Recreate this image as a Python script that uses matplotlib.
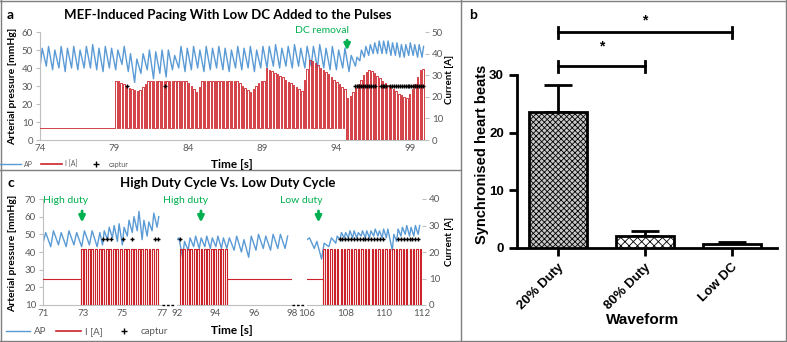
import numpy as np
import matplotlib
matplotlib.use('Agg')
import matplotlib.pyplot as plt
from matplotlib.lines import Line2D

plt.rcParams['font.family'] = ['Lato', 'DejaVu Sans']
plt.rcParams['hatch.linewidth'] = 0.6

W, H = 787, 342
BLUE = '#5B9BD5'
RED = '#CC2229'
GREEN = '#00B050'
TXT = '#595959'
AXC = '#BFBFBF'

# ---------------- panel a : MEF pacing with low DC ----------------
# arterial pressure, one trough + one peak per beat (mmHg)
a_beats1 = (74.0, 94.87)
a_trough1 = [40, 41, 39, 40, 38, 40, 39, 40, 40, 39, 38, 40, 39,
             42, 38, 32, 37, 39, 34, 37, 35, 39,
             40, 38, 39, 40, 38, 39, 40, 39, 38, 40, 39, 40, 38, 40,
             40, 41, 40, 41, 40, 41, 40, 41, 40, 40, 39, 39, 40,
             38]
a_peak1 = [51, 52, 50, 52, 51, 52, 50, 52, 53, 51, 52, 51, 50,
           52, 48, 45, 48, 50, 49, 50, 50, 47,
           52, 51, 52, 50, 52, 51, 52, 51, 50, 52, 51, 52, 50, 52,
           52, 53, 51, 52, 53, 51, 52, 52, 53, 51, 52, 50, 51,
           47]
a_beats2 = (95.3, 99.8)
a_trough2 = [41, 44, 46, 47, 48, 48, 48, 48, 47, 47, 46, 46, 47, 47, 46, 46]
a_peak2 = [46, 50, 52, 53, 54, 55, 55, 55, 54, 54, 53, 53, 54, 53, 53, 52]

# stimulation current (A)
a_dc = 5.5            # DC offset before removal
a_dc_off = 94.65      # DC removal time
a_pulse_first = 79.07
a_pulse_period = 0.182
a_pulse_width = 0.1
a_pulse_top = [27.5, 27.5, 26.5, 26, 25, 24, 23.5, 23,
               22.5, 23, 24.5, 26, 27.5,
               27.5, 27.5, 27.5, 27.5, 27.5, 27.5, 27.5, 27.5, 27.5, 27.5, 27.5, 27.5, 27.5, 27.5,
               26.5, 25, 23.5, 22, 24.5, 27.5,
               27.5, 27.5, 27.5, 27.5, 27.5, 27.5, 27.5, 27.5, 27.5, 27.5, 27.5, 27.5, 27.5,
               26.5, 25, 24, 23, 22, 23.5, 25, 26.5, 27.5, 27.5,
               33.3, 32.5, 32, 31, 30.5, 29.5, 29, 28, 27, 26.5, 25.5, 24.5, 23.5, 22.5,
               28, 33, 37,
               36.5, 35.5, 34.5, 33.5, 32.5, 31.5, 30.5, 29, 28, 27, 26, 24.5, 23.5,
               19.5, 20.5, 22, 24, 26, 28, 30, 31.5, 32.5, 32, 31, 29.5, 28.5, 27.5,
               26.5, 25.5, 24.5, 23.5, 22.5, 21.5, 21, 20, 19.5,
               21.5, 23.5, 26, 29, 32.5, 33]
a_captur = [79.9, 82.45,
            95.30, 95.43, 95.56, 95.69, 95.82, 95.95, 96.08, 96.21, 96.34, 96.47, 96.60,
            97.00, 97.13, 97.26, 97.39,
            97.65, 97.78, 97.91, 98.04, 98.17, 98.30, 98.43, 98.56, 98.69, 98.82,
            98.95, 99.08, 99.21, 99.34, 99.47, 99.60, 99.73, 99.86]
captur_level = 25.0

# ---------------- panel c : high vs low duty cycle ----------------
c_ranges = [(71, 77), (92, 98), (106, 112)]
c_xticks = [[71, 73, 75, 77], [92, 94, 96, 98], [106, 108, 110, 112]]

c1_beats = [(71.0, 73.73), (74.0, 76.75)]
c1_trough = [[45, 43, 44, 43, 44, 43, 44, 43],
             [44, 47, 48, 46, 44, 49, 51, 52, 47, 49, 52, 54]]
c1_peak = [[51, 52, 51, 52, 51, 52, 52, 51],
           [52, 54, 55, 56, 54, 58, 60, 63, 58, 57, 62, 60]]
c2_beats = [(92.0, 94.32), (94.6, 97.64)]
c2_trough = [[47, 37, 41, 43, 42, 43, 42, 43, 42],
             [42, 41, 40, 37, 41, 42, 41, 42, 42]]
c2_peak = [[48, 46, 48, 49, 48, 49, 48, 49, 48],
           [48, 49, 47, 49, 50, 49, 50, 50, 49]]
c3_beats = [(106.0, 107.14), (107.5, 110.14), (110.45, 111.8)]
c3_trough = [[47, 42, 36, 43],
             [45, 47, 48, 48, 48, 48, 49, 48, 48, 49, 49, 48, 48],
             [41, 46, 49, 50, 49, 49, 50]]
c3_peak = [[48, 46, 45, 48],
           [49, 51, 51, 52, 52, 51, 52, 52, 52, 53, 52, 53, 53],
           [50, 53, 54, 55, 54, 55, 55]]

c_dc = 10.0
c_top = 21.0
c_period = 0.18
c_stim = [dict(pre=(71.0, 72.9), first=72.9, last=76.85, width=0.10, post=None),
          dict(pre=None, first=92.15, last=94.55, width=0.10, post=(94.6, 98.0)),
          dict(pre=(106.0, 106.85), first=106.85, last=112.0, width=0.07, post=None)]
c_captur = [[74.05, 74.25, 74.45, 75.05, 75.5, 76.65, 76.82],
            [92.15],
            [107.70, 107.85, 108.00, 108.15, 108.30, 108.45, 108.60, 108.75, 108.90,
             109.05, 109.20, 109.35, 109.50, 109.65, 109.80, 109.95,
             110.75, 110.90, 111.05, 111.20, 111.35, 111.50, 111.65, 111.80]]

# ---------------- panel b : synchronised beats ----------------
b_cats = ['20% Duty', '80% Duty', 'Low DC']
b_mean = [23.6, 2.1, 0.75]
b_err = [4.6, 0.8, 0.25]


def fx(px):
    return px / W


def fy(py):
    return 1 - py / H


def ap_trace(beats, troughs, peaks):
    xs, ys = [], []
    for (t0, t1), tr, pk in zip(beats, troughs, peaks):
        t = np.linspace(t0, t1, len(tr))
        rise = 0.35 * (t1 - t0) / (len(tr) - 1)
        xs.append(np.column_stack([t, t + rise]).ravel())
        ys.append(np.column_stack([tr, pk]).ravel())
    return np.concatenate(xs), np.concatenate(ys)


def style_pair(ax, ax2, left=True, right=True):
    for s in ax.spines.values():
        s.set_visible(False)
    for s in ax2.spines.values():
        s.set_visible(False)
    ax.spines['bottom'].set_visible(True)
    ax.spines['bottom'].set_color(AXC)
    if left:
        ax.spines['left'].set_visible(True)
        ax.spines['left'].set_color(AXC)
        ax.tick_params(axis='y', colors=TXT, labelsize=7, length=3, color=AXC, pad=2)
    else:
        ax.tick_params(axis='y', left=False, labelleft=False)
    ax.tick_params(axis='x', colors=TXT, labelsize=7, length=0, pad=3)
    ax2.tick_params(axis='x', bottom=False, labelbottom=False)
    if right:
        ax2.tick_params(axis='y', colors=TXT, labelsize=7, length=3, color=AXC, pad=2)
    else:
        ax2.tick_params(axis='y', right=False, labelright=False)
    ax.patch.set_visible(False)


fig = plt.figure(figsize=(W / 100, H / 100), dpi=100)

# ---- panel a
ax_a = fig.add_axes([fx(40), fy(140), fx(425) - fx(40), (140 - 32) / H])
ax_a2 = ax_a.twinx()
x, y = ap_trace([a_beats1, a_beats2], [a_trough1, a_trough2], [a_peak1, a_peak2])
ax_a.plot(x, y, color=BLUE, lw=1.0)

a_pulse_t = a_pulse_first + a_pulse_period * np.arange(len(a_pulse_top))
xs, ys = [74.0, a_pulse_t[0]], [a_dc, a_dc]
for t, h in zip(a_pulse_t, a_pulse_top):
    base = a_dc if t < a_dc_off else 0.0
    if base == 0.0 and ys[-1] == a_dc:
        xs += [a_dc_off, a_dc_off]
        ys += [a_dc, 0.0]
    xs += [t, t, t + a_pulse_width, t + a_pulse_width]
    ys += [base, h, h, base]
ax_a2.plot(xs, ys, color=RED, lw=0.6)
ax_a2.plot(a_captur, [captur_level] * len(a_captur), ls='none', marker='+',
           color='black', ms=3.5, mew=1.0)

ax_a.set_xlim(74, 100)
ax_a.set_ylim(0, 60)
ax_a2.set_ylim(0, 50)
ax_a.set_xticks([74, 79, 84, 89, 94, 99])
ax_a.set_yticks(range(0, 61, 10))
ax_a2.set_yticks(range(0, 51, 10))
style_pair(ax_a, ax_a2)

ax_a.annotate('', xy=(94.74, 48.3), xytext=(94.74, 57),
              arrowprops=dict(arrowstyle='-|>', color=GREEN, lw=2, mutation_scale=9),
              annotation_clip=False)
ax_a.text(93.05, 60.8, 'DC removal', color=GREEN, fontsize=7.5, ha='center', va='center',
          clip_on=False)

# ---- panel c (broken time axis)
c_px = [(43, 162), (177, 292), (307, 422)]
c_data = [(c1_beats, c1_trough, c1_peak), (c2_beats, c2_trough, c2_peak),
          (c3_beats, c3_trough, c3_peak)]
c_axes = []
for i, ((p0, p1), (t0, t1)) in enumerate(zip(c_px, c_ranges)):
    ax = fig.add_axes([fx(p0), fy(305), fx(p1) - fx(p0), (305 - 199) / H])
    ax2 = ax.twinx()
    beats, tr, pk = c_data[i]
    x, y = ap_trace(beats, tr, pk)
    ax.plot(x, y, color=BLUE, lw=1.0)

    st = c_stim[i]
    xs, ys = [], []
    if st['pre']:
        xs += [st['pre'][0], st['pre'][1], st['pre'][1]]
        ys += [c_dc, c_dc, 0.0]
    for t in np.arange(st['first'], st['last'], c_period):
        xs += [t, t, t + st['width'], t + st['width']]
        ys += [0.0, c_top, c_top, 0.0]
    if st['post']:
        xs += [st['post'][0], st['post'][0], st['post'][1]]
        ys += [0.0, c_dc, c_dc]
    ax2.plot(xs, ys, color=RED, lw=0.8)
    ax2.plot(c_captur[i], [captur_level] * len(c_captur[i]), ls='none', marker='+',
             color='black', ms=3.5, mew=1.0)

    ax.set_xlim(t0, t1)
    ax.set_ylim(10, 70)
    ax2.set_ylim(0, 40)
    ax.set_xticks(c_xticks[i])
    ax.set_yticks(range(10, 71, 10))
    ax2.set_yticks(range(0, 41, 10))
    style_pair(ax, ax2, left=(i == 0), right=(i == 2))
    c_axes.append(ax)

# axis break marks
for xa, xb in [(162, 175), (292, 305)]:
    fig.add_artist(Line2D([fx(xa), fx(xb)], [fy(305), fy(305)], color='black',
                          lw=1, ls=(0, (2, 1.2))))

arrows_c = [(0, 72.97, 72.16, 'High duty'), (1, 93.25, 92.47, 'High duty'),
            (2, 106.6, 105.7, 'Low duty')]
for i, xa, xt, label in arrows_c:
    ax = c_axes[i]
    ax.annotate('', xy=(xa, 55.2), xytext=(xa, 64.8),
                arrowprops=dict(arrowstyle='-|>', color=GREEN, lw=2, mutation_scale=9),
                annotation_clip=False)
    ax.text(xt, 69.3, label, color=GREEN, fontsize=7.5, ha='center', va='center',
            clip_on=False)

# ---- titles / labels of a and c
fig.text(fx(228), fy(15), 'MEF-Induced Pacing With Low DC Added to the Pulses',
         fontsize=9.5, weight='bold', ha='center', va='center')
fig.text(fx(228), fy(183), 'High Duty Cycle Vs. Low Duty Cycle',
         fontsize=9.5, weight='bold', ha='center', va='center')
fig.text(fx(10), fy(15), 'a', fontsize=10, weight='bold', ha='center', va='center')
fig.text(fx(11), fy(183), 'c', fontsize=10, weight='bold', ha='center', va='center')
fig.text(fx(473), fy(15), 'b', fontsize=10, weight='bold', ha='center', va='center')
fig.text(fx(13), fy(86), 'Arterial pressure [mmHg]', rotation=90, fontsize=7.5,
         weight='bold', ha='center', va='center')
fig.text(fx(13), fy(253), 'Arterial pressure [mmHg]', rotation=90, fontsize=7.5,
         weight='bold', ha='center', va='center')
fig.text(fx(449), fy(79), 'Current [A]', rotation=90, fontsize=7, weight='bold',
         ha='center', va='center')
fig.text(fx(449), fy(241), 'Current [A]', rotation=90, fontsize=7, weight='bold',
         ha='center', va='center')
fig.text(fx(232), fy(164), 'Time [s]', fontsize=8.5, weight='bold', ha='center', va='center')
fig.text(fx(232), fy(331), 'Time [s]', fontsize=8.5, weight='bold', ha='center', va='center')

handles = [Line2D([], [], color=BLUE, lw=1), Line2D([], [], color=RED, lw=1.2),
           Line2D([], [], color='black', marker='+', ls='none', ms=4, mew=1)]
fig.legend(handles, ['AP', 'I [A]', 'captur'], loc='center left',
           bbox_to_anchor=(0.0, fy(164)), ncol=3, frameon=False, fontsize=5,
           handlelength=3, handletextpad=0.4, columnspacing=1.2, borderaxespad=0,
           borderpad=0, labelcolor=TXT)
fig.legend(handles, ['AP', 'I [A]', 'captur'], loc='center left',
           bbox_to_anchor=(fx(6), fy(332)), ncol=3, frameon=False, fontsize=7,
           handlelength=2.5, handletextpad=0.4, columnspacing=1.0, borderaxespad=0,
           borderpad=0, labelcolor=TXT)

# ---- panel b
ax_b = fig.add_axes([fx(517), fy(248), fx(777) - fx(517), 40 * 5.767 / H])
xb = np.arange(len(b_cats))
bars = ax_b.bar(xb, b_mean, width=0.67, color=['#c8c8c8', 'white', 'white'],
                edgecolor='black', linewidth=2, zorder=3)
bars[0].set_hatch('xxxxxx')
bars[1].set_hatch('xxxx')
ax_b.errorbar(xb, b_mean, yerr=[np.zeros(3), b_err], fmt='none', ecolor='black',
              elinewidth=2, capsize=10, capthick=2, zorder=2)

# significance brackets
for (i0, i1, yb, ys) in [(0, 2, 37.4, 39.5), (0, 1, 31.5, 34.9)]:
    ax_b.plot([xb[i0], xb[i1]], [yb, yb], color='black', lw=2, clip_on=False)
    for xi in (xb[i0], xb[i1]):
        ax_b.plot([xi, xi], [yb - 0.9, yb + 0.9], color='black', lw=2, clip_on=False)
    ax_b.text((xb[i0] + xb[i1]) / 2, ys, '*', fontsize=10, weight='bold',
              ha='center', va='center', family='Liberation Sans')

ax_b.set_xlim(-0.47, 2.52)
ax_b.set_ylim(0, 40)
ax_b.set_yticks([0, 10, 20, 30])
ax_b.set_xticks(xb)
ax_b.set_xticklabels(b_cats, rotation=45, ha='right', rotation_mode='anchor')
for s in ['top', 'right']:
    ax_b.spines[s].set_visible(False)
for s in ['left', 'bottom']:
    ax_b.spines[s].set_linewidth(2)
ax_b.spines['left'].set_bounds(0, 30)
ax_b.tick_params(axis='both', width=2, length=6)
for lab in ax_b.get_yticklabels() + ax_b.get_xticklabels():
    lab.set_fontweight('bold')
    lab.set_family('Liberation Sans')
    lab.set_fontsize(9.5)
ax_b.patch.set_visible(False)
fig.text(fx(482), fy(154), 'Synchronised heart beats', rotation=90, fontsize=10.5,
         weight='bold', family='Liberation Sans', ha='center', va='center')
fig.text(fx(643), fy(320), 'Waveform', fontsize=11, weight='bold',
         family='Liberation Sans', ha='center', va='center')

# ---- panel frames
BORDER = '#7f7f7f'
for xs_, ys_ in [([0, W - 1], [1, 1]), ([0, W - 1], [H - 1, H - 1]),
                 ([1, 1], [0, H]), ([W - 1.5, W - 1.5], [0, H]),
                 ([461, 461], [0, H]), ([0, 461], [170, 170])]:
    fig.add_artist(Line2D([fx(v) for v in xs_], [fy(v) for v in ys_], color=BORDER, lw=1))

fig.savefig('out.png', dpi=100)
